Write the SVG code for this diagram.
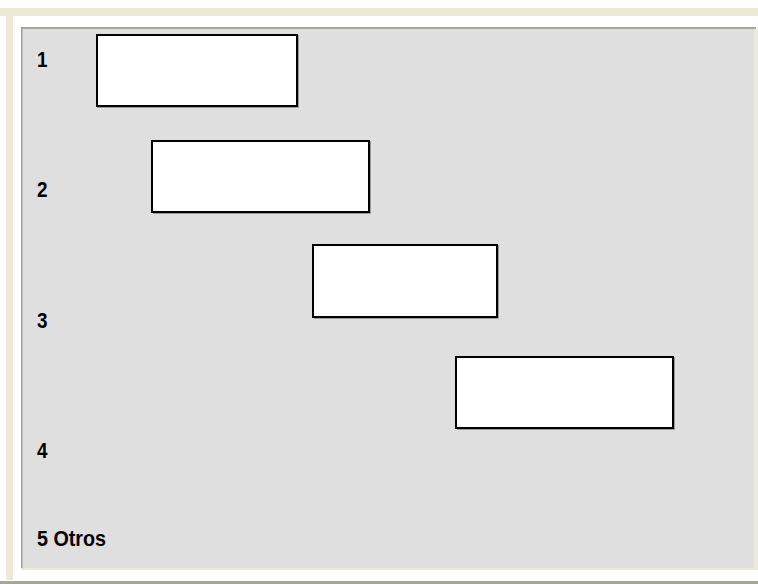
<svg xmlns="http://www.w3.org/2000/svg" width="758" height="584" viewBox="0 0 758 584">
<style>
.lbl{font-family:"Liberation Sans",Arial,sans-serif;font-weight:bold;font-size:22px;fill:#000}
.box{fill:#fff;stroke:#000;stroke-width:2}
.sh{fill:none;stroke:#9a9a9a;stroke-width:1}
</style>
<rect x="0" y="0" width="758" height="584" fill="#fff"/>
<rect x="0" y="8" width="758" height="8" fill="#ECE9D8"/>
<rect x="6" y="16" width="7" height="564" fill="#ECE9D8"/>
<rect x="754" y="29" width="4" height="541" fill="#ECE9D8"/>
<rect x="21" y="568" width="737" height="2" fill="#ECE9D8"/>
<rect x="0" y="581" width="758" height="3" fill="#A7A595"/>
<g id="panel">
<rect x="21" y="29" width="733" height="539" fill="#DFDFDF"/>
<rect x="21" y="27" width="735" height="2" fill="#A7A595"/>
<rect x="21" y="29" width="1.5" height="539" fill="#A0A0A0"/>
</g>
<g id="labels">
<text class="lbl" x="37" y="67" textLength="10.5" lengthAdjust="spacingAndGlyphs">1</text>
<text class="lbl" x="37" y="197" textLength="10.5" lengthAdjust="spacingAndGlyphs">2</text>
<text class="lbl" x="37" y="328" textLength="10.5" lengthAdjust="spacingAndGlyphs">3</text>
<text class="lbl" x="37" y="458" textLength="10.5" lengthAdjust="spacingAndGlyphs">4</text>
<text class="lbl" x="37" y="546" textLength="69" lengthAdjust="spacingAndGlyphs">5 Otros</text>
</g>
<g id="box1">
<path class="sh" d="M298.5 35V107.5H97"/>
<rect class="box" x="97" y="35" width="200" height="71"/>
</g>
<g id="box2">
<path class="sh" d="M370.5 141V213.5H153"/>
<rect class="box" x="152" y="141" width="217" height="71"/>
</g>
<g id="box3">
<path class="sh" d="M498.5 245V318.5H314"/>
<rect class="box" x="313" y="245" width="184" height="72"/>
</g>
<g id="box4">
<path class="sh" d="M674.5 357V429.5H457"/>
<rect class="box" x="456" y="357" width="217" height="71"/>
</g>
<g id="connectors"></g>
</svg>
